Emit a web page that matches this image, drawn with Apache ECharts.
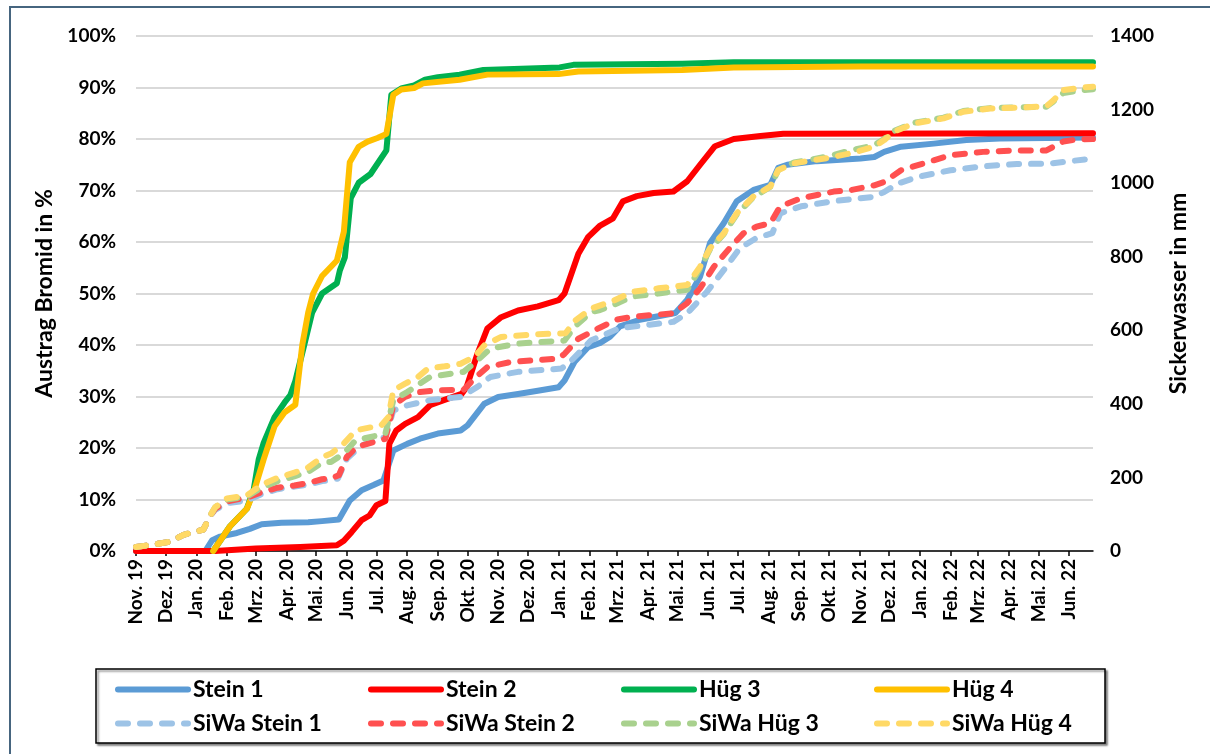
<!DOCTYPE html>
<html>
<head>
<meta charset="utf-8">
<script src="https://cdn.jsdelivr.net/npm/echarts@6/dist/echarts.min.js"></script>
<style>
html,body{margin:0;padding:0;background:#fff;}
#chart{width:1210px;height:754px;}
</style>
</head>
<body>
<div id="chart"></div>
<script>
// ---- axis domain / tick labels ----
const xStart = '2019-11-01';
const xEnd = '2022-06-25';
const monthNames = ['Jan','Feb','Mrz','Apr','Mai','Jun','Jul','Aug','Sep','Okt','Nov','Dez'];
const leftTicks = [0,10,20,30,40,50,60,70,80,90,100];
const rightTicks = [0,200,400,600,800,1000,1200,1400];
const seriesNames = ['Stein 1','Stein 2','Hüg 3','Hüg 4','SiWa Stein 1','SiWa Stein 2','SiWa Hüg 3','SiWa Hüg 4'];

// ---- series values (Austrag Bromid in %) ----
const stein1 = [
 ['2019-11-01',0],['2020-01-10',0],['2020-01-17',2.1],['2020-01-25',2.8],['2020-02-11',3.5],['2020-02-24',4.3],
 ['2020-03-07',5.2],['2020-03-27',5.5],['2020-04-23',5.6],['2020-05-07',5.8],['2020-05-24',6.1],['2020-06-04',9.8],
 ['2020-06-16',11.8],['2020-06-28',12.8],['2020-07-08',13.7],['2020-07-18',19.5],['2020-08-01',20.8],['2020-08-14',21.8],
 ['2020-09-01',22.8],['2020-09-24',23.4],['2020-10-01',24.4],['2020-10-18',28.6],['2020-11-01',29.9],['2020-11-21',30.5],
 ['2020-12-11',31.1],['2021-01-01',31.8],['2021-01-07',33.1],['2021-01-17',36.7],['2021-01-31',39.6],['2021-02-12',40.4],
 ['2021-02-22',41.6],['2021-03-04',43.6],['2021-03-24',44.9],['2021-04-29',46.2],['2021-05-11',48.8],['2021-05-24',53.3],
 ['2021-06-03',59.8],['2021-06-17',63.7],['2021-06-30',67.9],['2021-07-17',70.1],['2021-08-03',71.1],['2021-08-11',74.4],
 ['2021-08-20',75.0],['2021-09-19',75.7],['2021-11-02',76.2],['2021-11-16',76.5],['2021-11-26',77.5],['2021-12-13',78.5],
 ['2022-01-15',79.1],['2022-02-17',79.8],['2022-03-23',80.1],['2022-06-25',80.3]
];
const stein2 = [
 ['2019-11-01',0],['2020-01-20',0],['2020-03-01',0.5],['2020-04-15',0.8],['2020-05-22',1.1],['2020-05-29',2.0],
 ['2020-06-06',3.7],['2020-06-16',6.0],['2020-06-24',6.9],['2020-07-01',8.9],['2020-07-10',9.7],['2020-07-14',20.8],
 ['2020-07-21',23.4],['2020-07-30',24.7],['2020-08-12',26.0],['2020-08-24',28.3],['2020-09-07',29.3],['2020-09-25',30.5],
 ['2020-09-30',31.8],['2020-10-11',38.3],['2020-10-21',43.2],['2020-11-04',45.4],['2020-11-21',46.7],['2020-12-11',47.5],
 ['2021-01-01',48.7],['2021-01-07',50.0],['2021-01-21',57.7],['2021-01-31',61.0],['2021-02-12',63.2],['2021-02-25',64.6],
 ['2021-03-07',67.9],['2021-03-21',68.9],['2021-04-07',69.5],['2021-04-27',69.8],['2021-05-11',71.8],['2021-05-24',75.0],
 ['2021-06-08',78.6],['2021-06-27',80.0],['2021-07-24',80.6],['2021-08-16',81.0],['2022-06-25',81.1]
];
const hueg3 = [
 ['2020-01-18',0],['2020-02-04',4.8],['2020-02-21',8.2],['2020-02-28',12.0],['2020-03-04',17.8],['2020-03-09',21.0],
 ['2020-03-20',26.0],['2020-03-30',28.8],['2020-04-05',30.3],['2020-04-10',33.0],['2020-04-19',40.0],['2020-04-27',46.3],
 ['2020-05-07',50.0],['2020-05-22',52.0],['2020-05-25',54.5],['2020-05-30',57.0],['2020-06-05',68.5],['2020-06-13',71.5],
 ['2020-06-25',73.2],['2020-07-11',77.8],['2020-07-16',88.6],['2020-07-26',89.8],['2020-08-08',90.4],['2020-08-19',91.5],
 ['2020-09-01',92.0],['2020-09-23',92.5],['2020-10-17',93.4],['2021-01-02',93.9],['2021-01-16',94.4],['2021-05-06',94.6],
 ['2021-06-27',94.9],['2022-06-25',94.9]
];
const hueg4 = [
 ['2020-01-18',0],['2020-02-04',4.8],['2020-02-21',8.2],['2020-02-28',11.5],['2020-03-09',17.8],['2020-03-20',24.2],
 ['2020-03-30',26.9],['2020-04-10',28.4],['2020-04-17',40.0],['2020-04-23',46.3],['2020-04-28',50.0],['2020-05-07',53.4],
 ['2020-05-16',55.2],['2020-05-22',56.4],['2020-05-29',62.0],['2020-06-04',75.5],['2020-06-13',78.5],['2020-06-22',79.5],
 ['2020-07-02',80.2],['2020-07-11',81.0],['2020-07-18',88.6],['2020-07-26',89.6],['2020-08-08',89.9],['2020-08-17',90.8],
 ['2020-09-23',91.5],['2020-10-21',92.5],['2021-01-01',92.6],['2021-01-21',93.1],['2021-05-06',93.4],['2021-06-27',93.9],
 ['2021-11-02',94.1],['2022-06-25',94.1]
];

// ---- series values (Sickerwasser in mm) ----
const siwaStein1 = [
 ['2019-11-01',11],['2019-11-15',16],['2019-12-05',25],['2019-12-19',44],['2020-01-08',58],['2020-01-15',96],
 ['2020-01-20',112],['2020-02-01',130],['2020-02-21',137],['2020-03-07',155],['2020-03-23',168],['2020-04-09',175],
 ['2020-04-23',180],['2020-05-07',190],['2020-05-16',192],['2020-05-23',197],['2020-06-01',251],['2020-06-16',287],
 ['2020-07-10',310],['2020-07-18',382],['2020-08-01',396],['2020-08-24',410],['2020-09-24',419],['2020-10-11',446],
 ['2020-10-24',473],['2020-11-21',487],['2021-01-04',496],['2021-01-14',518],['2021-02-03',573],['2021-02-12',583],
 ['2021-03-04',606],['2021-04-03',615],['2021-04-27',623],['2021-05-11',646],['2021-05-31',705],['2021-06-17',764],
 ['2021-07-03',823],['2021-07-20',851],['2021-08-05',864],['2021-08-13',918],['2021-09-03',937],['2021-10-06',951],
 ['2021-11-02',959],['2021-11-16',963],['2021-11-26',976],['2021-12-10',999],['2021-12-30',1017],['2022-02-01',1035],
 ['2022-03-06',1046],['2022-04-09',1052],['2022-05-12',1053],['2022-06-25',1067]
];
const siwaStein2 = [
 ['2019-11-01',11],['2019-11-15',16],['2019-12-05',25],['2019-12-19',44],['2020-01-08',58],['2020-01-15',96],
 ['2020-01-20',115],['2020-02-01',135],['2020-02-21',145],['2020-03-07',160],['2020-03-23',172],['2020-04-09',178],
 ['2020-04-23',185],['2020-05-07',195],['2020-05-16',197],['2020-05-24',206],['2020-06-01',256],['2020-06-11',283],
 ['2020-07-10',305],['2020-07-18',396],['2020-07-30',419],['2020-08-14',432],['2020-09-01',437],['2020-09-27',438],
 ['2020-10-08',469],['2020-10-21',500],['2020-11-14',514],['2021-01-01',523],['2021-01-07',536],['2021-01-21',577],
 ['2021-02-10',605],['2021-03-01',629],['2021-03-17',637],['2021-04-27',646],['2021-05-11',674],['2021-05-24',714],
 ['2021-06-07',773],['2021-06-24',827],['2021-07-07',864],['2021-07-20',882],['2021-08-03',891],['2021-08-13',937],
 ['2021-09-03',959],['2021-10-06',977],['2021-10-23',981],['2021-11-16',994],['2021-11-26',1003],['2021-12-13',1035],
 ['2021-12-30',1049],['2022-02-01',1076],['2022-03-06',1085],['2022-04-09',1089],['2022-05-09',1089],['2022-05-26',1113],
 ['2022-06-09',1119],['2022-06-25',1120]
];
const siwaHueg3 = [
 ['2019-11-01',11],['2019-11-15',16],['2019-12-05',25],['2019-12-19',44],['2020-01-08',58],['2020-01-15',96],
 ['2020-01-20',119],['2020-02-01',140],['2020-02-21',148],['2020-03-07',172],['2020-03-23',190],['2020-04-09',203],
 ['2020-04-23',215],['2020-05-07',240],['2020-05-16',242],['2020-05-29',265],['2020-06-10',301],['2020-07-10',319],
 ['2020-07-18',410],['2020-08-01',432],['2020-08-14',455],['2020-08-24',473],['2020-09-27',487],['2020-10-11',518],
 ['2020-10-24',550],['2020-11-21',564],['2021-01-07',572],['2021-01-17',609],['2021-02-03',650],['2021-02-12',655],
 ['2021-03-01',673],['2021-03-17',692],['2021-04-12',700],['2021-05-11',710],['2021-05-24',768],['2021-06-03',820],
 ['2021-06-17',862],['2021-06-30',915],['2021-07-17',962],['2021-08-03',990],['2021-08-11',1036],['2021-08-27',1056],
 ['2021-09-29',1072],['2021-10-23',1089],['2021-11-16',1103],['2021-11-26',1120],['2021-12-06',1142],['2021-12-26',1164],
 ['2022-01-25',1178],['2022-02-14',1196],['2022-03-13',1204],['2022-04-09',1206],['2022-05-09',1208],['2022-05-16',1222],
 ['2022-05-26',1245],['2022-06-15',1253],['2022-06-25',1255]
];
const siwaHueg4 = [
 ['2019-11-01',11],['2019-11-15',16],['2019-12-05',25],['2019-12-19',44],['2020-01-08',58],['2020-01-15',96],
 ['2020-01-20',119],['2020-02-01',143],['2020-02-21',151],['2020-03-07',180],['2020-03-23',199],['2020-04-09',213],
 ['2020-04-23',227],['2020-05-07',255],['2020-05-16',265],['2020-05-29',292],['2020-06-10',328],['2020-07-06',342],
 ['2020-07-13',364],['2020-07-18',437],['2020-07-30',455],['2020-08-12',473],['2020-08-22',496],['2020-09-08',502],
 ['2020-09-24',509],['2020-10-08',528],['2020-10-18',559],['2020-11-04',582],['2020-12-08',589],['2021-01-08',592],
 ['2021-01-18',627],['2021-02-03',659],['2021-02-26',681],['2021-03-17',705],['2021-04-12',714],['2021-05-11',723],
 ['2021-05-24',773],['2021-06-03',823],['2021-06-17',864],['2021-06-30',918],['2021-07-17',964],['2021-08-03',991],
 ['2021-08-11',1036],['2021-08-27',1054],['2021-09-29',1068],['2021-10-23',1081],['2021-11-16',1099],['2021-11-26',1117],
 ['2021-12-06',1140],['2021-12-26',1162],['2022-01-25',1176],['2022-02-14',1194],['2022-03-13',1203],['2022-04-09',1205],
 ['2022-05-09',1209],['2022-05-16',1225],['2022-05-26',1253],['2022-06-15',1260],['2022-06-25',1262]
];

// ---- build daily categories ----
function dayList(a, b) {
  const out = [];
  let t = Date.parse(a + 'T00:00:00Z');
  const e = Date.parse(b + 'T00:00:00Z');
  while (t <= e) { out.push(new Date(t).toISOString().slice(0, 10)); t += 86400000; }
  return out;
}
const days = dayList(xStart, xEnd);
const isMonthStart = (idx, val) => val.slice(8, 10) === '01';
const fmtMonth = (val) => monthNames[parseInt(val.slice(5, 7), 10) - 1] + '. ' + val.slice(2, 4);

const FONT = 'Lato';
const colors = ['#5B9BD5','#FF0000','#00B050','#FFC000','#9DC3E6','#FF5050','#A9D18E','#FFD966'];
const dataSets = [stein1, stein2, hueg3, hueg4, siwaStein1, siwaStein2, siwaHueg3, siwaHueg4];
const DASH = [10, 12];

const series = dataSets.map((d, i) => ({
  name: seriesNames[i],
  type: 'line',
  yAxisIndex: i < 4 ? 0 : 1,
  data: d,
  symbol: 'none',
  showSymbol: false,
  smooth: false,
  lineStyle: {
    color: colors[i],
    width: 6,
    type: i < 4 ? 'solid' : DASH,
    cap: 'round',
    join: 'round'
  },
  itemStyle: { color: colors[i] },
  z: 2 + i
}));

const legendCols = [115, 368, 621, 874];
const legendRows = [678, 712];
const legends = seriesNames.map((n, i) => ({
  data: [n],
  left: legendCols[i % 4],
  top: legendRows[Math.floor(i / 4)],
  padding: 0,
  itemWidth: 70,
  itemHeight: 14,
  itemGap: 0,
  selectedMode: false,
  z: 10,
  itemStyle: { opacity: 0 },
  lineStyle: { width: 6, color: colors[i], type: i < 4 ? 'solid' : DASH, cap: 'round' },
  textStyle: { fontFamily: FONT, fontWeight: 'bold', fontSize: 23, color: '#000', padding: [0,0,0,0] }
}));

const chart = echarts.init(document.getElementById('chart'), null, { renderer: 'canvas' });
chart.setOption({
  animation: false,
  backgroundColor: '#fff',
  grid: { left: 136, right: 117, top: 36, bottom: 203 },
  xAxis: {
    type: 'category',
    data: days,
    boundaryGap: false,
    axisLine: { lineStyle: { color: '#000', width: 1.5 } },
    axisTick: { show: true, interval: isMonthStart, length: 5, lineStyle: { color: '#000', width: 1.5 } },
    axisLabel: {
      interval: isMonthStart,
      rotate: 90,
      margin: 8,
      formatter: fmtMonth,
      fontFamily: FONT, fontWeight: 'bold', fontSize: 19, color: '#000'
    },
    splitLine: { show: false }
  },
  yAxis: [
    {
      type: 'value', min: leftTicks[0], max: leftTicks[leftTicks.length - 1], interval: 10,
      name: 'Austrag Bromid in %', nameLocation: 'middle', nameGap: 70, nameRotate: 90,
      nameTextStyle: { fontFamily: FONT, fontWeight: 'bold', fontSize: 23, color: '#000' },
      axisLine: { show: false }, axisTick: { show: false },
      axisLabel: { formatter: '{value}%', margin: 20, fontFamily: FONT, fontWeight: 'bold', fontSize: 19, color: '#000' },
      splitLine: { lineStyle: { color: '#D9D9D9', width: 2 } }
    },
    {
      type: 'value', min: rightTicks[0], max: rightTicks[rightTicks.length - 1], interval: 200,
      name: 'Sickerwasser in mm', nameLocation: 'middle', nameGap: 74, nameRotate: 90,
      nameTextStyle: { fontFamily: FONT, fontWeight: 'bold', fontSize: 23, color: '#000' },
      axisLine: { show: false }, axisTick: { show: false },
      axisLabel: { formatter: (v) => String(v), margin: 17, fontFamily: FONT, fontWeight: 'bold', fontSize: 19, color: '#000' },
      splitLine: { show: false }
    }
  ],
  legend: legends,
  graphic: [
    { type: 'rect', z: -1, shape: { x: 10, y: 7, width: 1260, height: 800 },
      style: { fill: 'none', stroke: '#46657F', lineWidth: 2 } },
    { type: 'rect', z: 1, shape: { x: 96, y: 669, width: 1009, height: 74 },
      style: { fill: '#fff', stroke: '#000', lineWidth: 1.5,
               shadowBlur: 2, shadowOffsetX: 2, shadowOffsetY: 2, shadowColor: 'rgba(0,0,0,0.45)' } }
  ],
  series: series
});
</script>
</body>
</html>
